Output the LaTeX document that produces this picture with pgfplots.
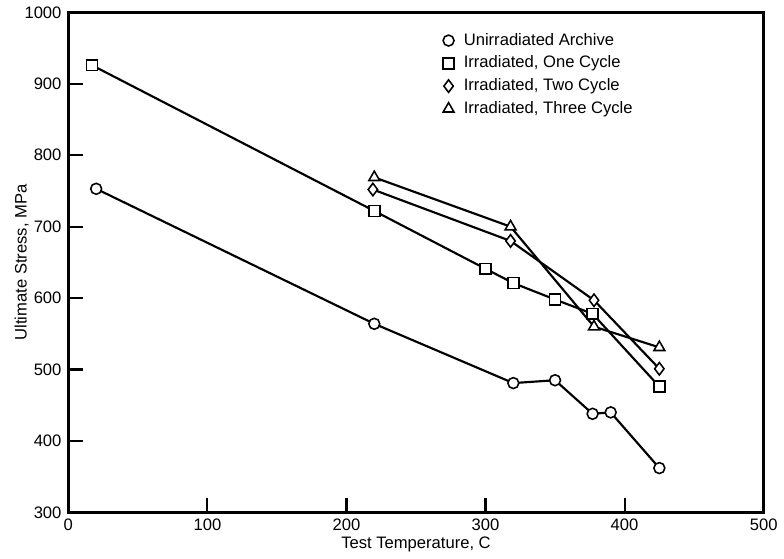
\documentclass[border=0pt]{standalone}
\usepackage{pgfplots}
\pgfplotsset{compat=1.18}
\usepackage{fontspec}
\setmainfont{Liberation Sans}
\begin{document}
\begin{tikzpicture}
\begin{axis}[
  width=356pt, height=256pt, scale only axis,
  xmin=0, xmax=500, ymin=300, ymax=1000,
  xtick={0,100,...,500}, ytick={300,400,...,1000},
  tick pos=left, tick align=inside, major tick length=7.5pt,
  axis line style={line width=1.2pt},
  every tick/.style={black, line width=1.1pt},
  xlabel={Test Temperature, C},
  ylabel={Ultimate Stress, MPa},
  xlabel style={yshift=4pt},
  ylabel style={yshift=-9pt},
  ticklabel style={font=\fontsize{8.5}{9}\selectfont},
  label style={font=\fontsize{8.5}{9}\selectfont},
  /pgf/number format/assume math mode=true,
  /pgf/number format/1000 sep={},
  legend style={draw=none, fill=none, at={(0.53,0.975)}, anchor=north west,
    font=\fontsize{8.5}{9}\selectfont, row sep=0pt},
  legend cell align=left,
  legend image code/.code={\draw[#1, only marks] plot coordinates {(0.1cm,0cm)};},
  every axis plot/.append style={black, line width=1.1pt, mark size=2.8pt,
    mark options={fill=white, line width=0.8pt, solid}},
]
% Unirradiated archive
\addplot[mark=*] coordinates {
  (20,753) (220,564) (320,481) (350,485) (377,438) (390,440) (425,362)
};
\addlegendentry{\hspace{3pt}Unirradiated Archive}
% Irradiated, one cycle
\addplot[mark=square*] coordinates {
  (17,926) (220,722) (300,641) (320,621) (350,598) (377,578) (425,476)
};
\addlegendentry{\hspace{3pt}Irradiated, One Cycle}
% Irradiated, two cycle
\addplot[mark=diamond*, mark size=3.2pt] coordinates {
  (219,752) (318,680) (378,597) (425,501)
};
\addlegendentry{\hspace{3pt}Irradiated, Two Cycle}
% Irradiated, three cycle
\addplot[mark=triangle*, mark size=3.2pt] coordinates {
  (220,769) (318,700) (378,560) (425,531)
};
\addlegendentry{\hspace{3pt}Irradiated, Three Cycle}
\end{axis}
% left margin as in the reference
\path (current axis.south west) ++(-35pt,0pt) coordinate (lm);
\end{tikzpicture}
\end{document}
